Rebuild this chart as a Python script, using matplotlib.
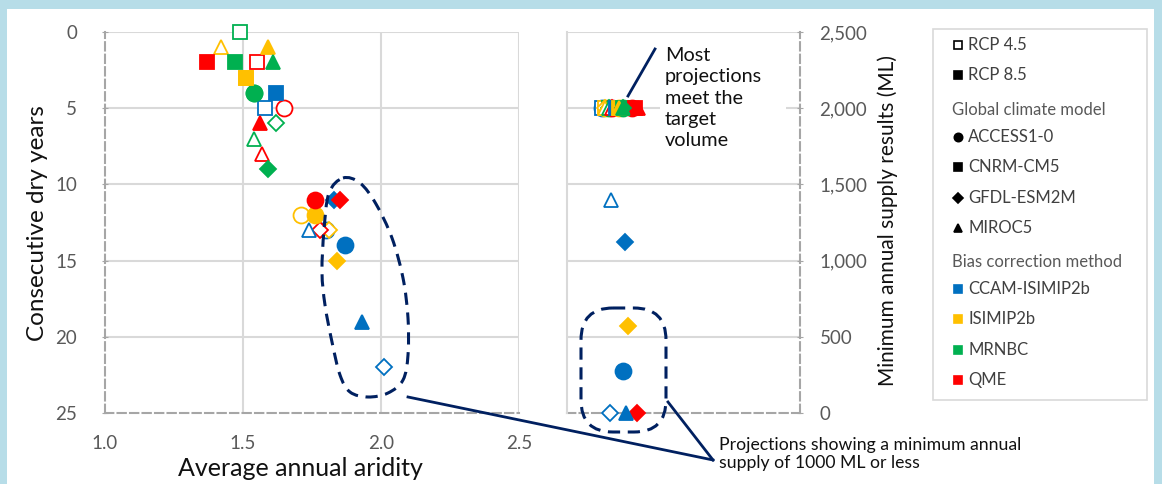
import numpy as np
import matplotlib
matplotlib.use("Agg")
import matplotlib.pyplot as plt
from matplotlib.path import Path
from matplotlib.patches import PathPatch, FancyBboxPatch, Rectangle

plt.rcParams['font.family'] = ['Lato', 'DejaVu Sans']

# ---- data: one entry per projection (RCP x GCM x bias correction) ----
rcp_names = ['RCP 4.5', 'RCP 8.5']
gcm_names = ['ACCESS1-0', 'CNRM-CM5', 'GFDL-ESM2M', 'MIROC5']
bias_names = ['CCAM-ISIMIP2b', 'ISIMIP2b', 'MRNBC', 'QME']

rcp = ['RCP 4.5'] * 16 + ['RCP 8.5'] * 16
gcm = (['ACCESS1-0'] * 4 + ['CNRM-CM5'] * 4 + ['GFDL-ESM2M'] * 4 + ['MIROC5'] * 4) * 2
bias = ['CCAM-ISIMIP2b', 'ISIMIP2b', 'MRNBC', 'QME'] * 8

aridity = [1.80, 1.71, 1.54, 1.65, 1.58, 1.51, 1.49, 1.55, 2.01, 1.81, 1.62, 1.78, 1.74, 1.42, 1.54, 1.57,
           1.87, 1.76, 1.54, 1.76, 1.62, 1.51, 1.47, 1.37, 1.83, 1.84, 1.59, 1.85, 1.93, 1.59, 1.61, 1.56]
dry_years = [13, 12, 4, 5, 5, 3, 0, 2, 22, 13, 6, 13, 13, 1, 7, 8,
             14, 12, 4, 11, 4, 3, 2, 2, 11, 15, 9, 11, 19, 1, 2, 6]
min_supply = [2000, 2000, 2000, 2000, 2000, 2000, 2000, 2000, 0, 2000, 2000, 2000, 1400, 2000, 2000, 2000,
              275, 2000, 2000, 2000, 2000, 2000, 2000, 2000, 1120, 570, 2000, 0, 0, 2000, 2000, 2000]
# horizontal jitter used in the supply panel
supply_pos = [1.50, 1.65, 1.80, 1.95, 1.50, 1.65, 1.80, 1.95, 1.85, 1.65, 1.80, 1.95, 1.90, 1.65, 1.80, 1.95,
              2.40, 2.25, 2.40, 2.80, 2.10, 2.25, 2.40, 2.92, 2.50, 2.60, 2.40, 3.00, 2.53, 2.25, 2.40, 3.05]

bias_colors = {'CCAM-ISIMIP2b': '#0070C0', 'ISIMIP2b': '#FFC000', 'MRNBC': '#00B050', 'QME': '#FF0000'}
gcm_markers = {'ACCESS1-0': 'o', 'CNRM-CM5': 's', 'GFDL-ESM2M': 'D', 'MIROC5': '^'}
marker_size = {'o': 11.5, 's': 10.3, 'D': 8.6, '^': 10.5}

W, H = 1162, 484
GRID = '#D9D9D9'
AXC = '#A6A6A6'
TICKC = '#595959'
NAVY = '#002060'

fig = plt.figure(figsize=(W / 100, H / 100), dpi=100)
fig.patch.set_facecolor('#B7DDE8')
fig.patches.append(Rectangle((7 / W, 0), (W - 15) / W, (H - 9) / H, transform=fig.transFigure,
                             facecolor='white', edgecolor='none', zorder=-5))


def draw_points(ax, xs, ys):
    order = [i for i in range(len(xs)) if rcp[i] == 'RCP 4.5'] + \
            [i for i in range(len(xs)) if rcp[i] == 'RCP 8.5']
    for i in order:
        m = gcm_markers[gcm[i]]
        c = bias_colors[bias[i]]
        face = 'white' if rcp[i] == 'RCP 4.5' else c
        ax.plot(xs[i], ys[i], marker=m, ms=marker_size[m], mfc=face, mec=c, mew=1.3,
                ls='none', zorder=3, clip_on=False)


# ---- left panel: aridity vs consecutive dry years ----
axL = fig.add_axes([105 / W, (H - 413) / H, 414 / W, 381 / H])
axL.set_facecolor('none')
axL.set_xlim(1.0, 2.5)
axL.set_ylim(25, 0)
axL.set_xticks([1.0, 1.5, 2.0, 2.5])
axL.set_xticklabels(['1.0', '1.5', '2.0', '2.5'])
axL.set_yticks([0, 5, 10, 15, 20, 25])
for v in [1.5, 2.0, 2.5]:
    axL.axvline(v, color=GRID, lw=1.5, zorder=1)
for v in [0, 5, 10, 15, 20]:
    axL.axhline(v, color=GRID, lw=1.5, zorder=1)
for s in ['top', 'right']:
    axL.spines[s].set_visible(False)
for s in ['left', 'bottom']:
    axL.spines[s].set_color(AXC)
    axL.spines[s].set_linewidth(1.5)
    axL.spines[s].set_linestyle((0, (4, 2)))
    axL.spines[s].set_zorder(2)
axL.tick_params(axis='y', length=4, direction='inout', color=AXC, pad=18, labelsize=13.5, labelcolor=TICKC)
axL.tick_params(axis='x', length=0, pad=16, labelsize=13.5, labelcolor=TICKC)
draw_points(axL, aridity, dry_years)

# ---- right panel: minimum annual supply ----
axR = fig.add_axes([567 / W, (H - 413) / H, 233 / W, 381 / H])
axR.set_facecolor('none')
axR.set_xlim(0, 10)
axR.set_ylim(0, 2500)
axR.set_xticks([])
axR.yaxis.tick_right()
axR.set_yticks([0, 500, 1000, 1500, 2000, 2500])
axR.yaxis.set_major_formatter(matplotlib.ticker.StrMethodFormatter('{x:,.0f}'))
for v in [500, 1000, 1500, 2000, 2500]:
    axR.axhline(v, color=GRID, lw=1.5, zorder=1)
axR.spines['top'].set_visible(False)
axR.spines['left'].set_color(GRID)
axR.spines['left'].set_linewidth(1.5)
for s in ['right', 'bottom']:
    axR.spines[s].set_color(AXC)
    axR.spines[s].set_linewidth(1.5)
    axR.spines[s].set_linestyle((0, (4, 2)))
    axR.spines[s].set_zorder(2)
axR.tick_params(axis='y', length=4, direction='inout', color=AXC, pad=12, labelsize=13.5, labelcolor=TICKC)
draw_points(axR, supply_pos, min_supply)

# ---- axis titles ----
fig.text(38 / W, 1 - 223 / H, 'Consecutive dry years', rotation=90, ha='center', va='center',
         fontsize=17.5, color='#111111')
fig.text(300 / W, 1 - 469 / H, 'Average annual aridity', ha='center', va='center',
         fontsize=18, color='#111111')
fig.text(888 / W, 1 - 220 / H, 'Minimum annual supply results (ML)', rotation=90, ha='center',
         va='center', fontsize=15, color='#111111')

# ---- overlay in pixel coordinates for annotations and legend ----
axO = fig.add_axes([0, 0, 1, 1], zorder=10)
axO.set_xlim(0, W)
axO.set_ylim(H, 0)
axO.axis('off')
axO.patch.set_alpha(0)


def smooth_closed(pts):
    P = np.array(pts, dtype=float)
    n = len(P)
    verts = [P[0]]
    codes = [Path.MOVETO]
    for i in range(n):
        p0, p1, p2, p3 = P[i - 1], P[i], P[(i + 1) % n], P[(i + 2) % n]
        verts += [p1 + (p2 - p0) / 6, p2 - (p3 - p1) / 6, p2]
        codes += [Path.CURVE4] * 3
    return Path(verts, codes)


loop = smooth_closed([(343, 178), (360, 183), (376, 204), (392, 238), (403, 278), (408, 318),
                      (408, 355), (403, 380), (388, 393), (368, 397), (350, 392), (340, 375),
                      (332, 342), (325, 305), (322, 272), (324, 230), (329, 193)])
axO.add_patch(PathPatch(loop, fill=False, edgecolor=NAVY, lw=2.2, ls=(0, (4, 2.5))))
axO.add_patch(FancyBboxPatch((581, 308), 85, 124, boxstyle='round,pad=0,rounding_size=32',
                             fill=False, edgecolor=NAVY, lw=2.2, ls=(0, (4, 2.5))))
axO.plot([408, 713], [397, 460], color=NAVY, lw=2)
axO.plot([668, 713], [402, 460], color=NAVY, lw=2)
axO.text(719, 454, 'Projections showing a minimum annual\nsupply of 1000 ML or less', ha='left',
         va='center', fontsize=12.7, color='#111111', linespacing=1.2)

axO.add_patch(Rectangle((660, 101), 126, 14, facecolor='white', edgecolor='none'))
axO.plot([655, 628], [49, 96], color=NAVY, lw=2)
axO.text(665, 98, 'Most\nprojections\nmeet the\ntarget\nvolume', ha='left', va='center',
         fontsize=14.3, color='#111111', linespacing=1.32)

# legend
axO.add_patch(Rectangle((933, 29), 214, 371, facecolor='white', edgecolor=GRID, lw=1.2))
rows = []
rows.append(('item', rcp_names[0], 's', 'white', 'black'))
rows.append(('item', rcp_names[1], 's', 'black', 'black'))
rows.append(('head', 'Global climate model'))
for g in gcm_names:
    rows.append(('item', g, gcm_markers[g], 'black', 'black'))
rows.append(('head', 'Bias correction method'))
for b in bias_names:
    rows.append(('item', b, 's', bias_colors[b], bias_colors[b]))
row_y = [45, 75, 110, 137, 167, 198, 228, 262, 289, 319, 350, 380]
for r, y in zip(rows, row_y):
    if r[0] == 'head':
        axO.text(952, y, r[1], ha='left', va='center', fontsize=12, color=TICKC)
    else:
        axO.plot(958, y, marker=r[2], ms=6 if r[2] != 'D' else 5, mfc=r[3], mec=r[4], mew=1.2, ls='none')
        axO.text(968, y, r[1], ha='left', va='center', fontsize=12, color='#404040')

fig.savefig('out.png', dpi=100, facecolor=fig.get_facecolor())
